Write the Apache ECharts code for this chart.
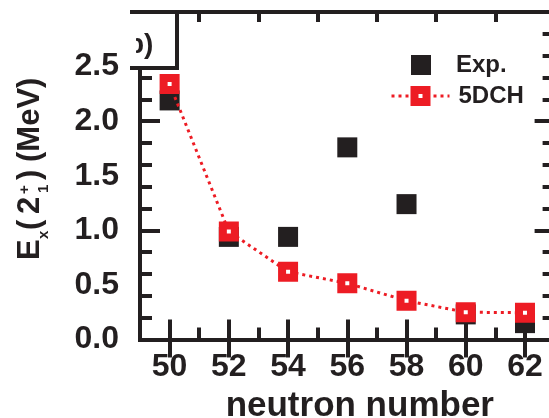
<!DOCTYPE html>
<html>
<head>
<meta charset="utf-8">
<script src="https://cdn.jsdelivr.net/npm/echarts@6/dist/echarts.min.js"></script>
<style>
  html, body { margin: 0; padding: 0; background: #fff; }
  #chart { width: 549px; height: 418px; }
</style>
</head>
<body>
<div id="chart"></div>
<script>
// Neutron numbers and 2+1 excitation energies (MeV)
const neutronNumbers = [50, 52, 54, 56, 58, 60, 62];
const expEnergies = [2.19, 0.94, 0.94, 1.76, 1.24, 0.23, 0.15];
const dchEnergies = [2.34, 0.99, 0.62, 0.515, 0.355, 0.25, 0.245];

// Tick and label positions
const xLabelValues = [50, 52, 54, 56, 58, 60, 62];
const xMajorTicks = [50, 52, 54, 56, 58, 60, 62];
const xMinorTicks = [51, 53, 55, 57, 59, 61];
const yLabelValues = [0, 0.5, 1, 1.5, 2, 2.5];
const yMajorTicks = [1, 2];
const yMinorTicks = [0.2, 0.4, 0.6, 0.8, 1.2, 1.4, 1.6, 1.8, 2.2, 2.4, 2.6, 2.8];

const INK = '#231f20';
const RED = '#ed1c24';
const FONT = 'Liberation Sans';
const LINE_W = 4;

const chart = echarts.init(document.getElementById('chart'));

// Fixed plot box; axes may run past the right edge of the canvas
const gridBox = { left: 140, top: 12, right: -5.6, bottom: 78.5,
                  containLabel: false, outerBoundsMode: 'none' };

function lineOn() {
  return { show: true, onZero: false, lineStyle: { color: INK, width: LINE_W, cap: 'square' } };
}

function xAxisDef(gridIndex, position, ticks, tickLen, withLine, withLabels) {
  return {
    type: 'value', gridIndex, position, min: 49, max: 63, interval: 1,
    axisLine: withLine ? lineOn() : { show: false },
    axisTick: { show: true, inside: true, length: tickLen, customValues: ticks,
                lineStyle: { color: INK, width: LINE_W } },
    axisLabel: withLabels ? {
      show: true, customValues: xLabelValues, margin: 12,
      fontSize: 32, fontWeight: 'bold', fontFamily: FONT, color: INK
    } : { show: false },
    splitLine: { show: false },
    name: withLabels ? 'neutron number' : '',
    nameLocation: 'middle', nameGap: 46,
    nameTextStyle: { fontSize: 35, fontWeight: 'bold', fontFamily: FONT, color: INK,
                     padding: [0, 0, 0, 25] }
  };
}

function yAxisDef(gridIndex, position, ticks, tickLen, withLine, withLabels) {
  return {
    type: 'value', gridIndex, position, min: 0, max: 3, interval: 0.2,
    axisLine: withLine ? lineOn() : { show: false },
    axisTick: { show: true, inside: true, length: tickLen, customValues: ticks,
                lineStyle: { color: INK, width: LINE_W } },
    axisLabel: withLabels ? {
      show: true, customValues: yLabelValues, margin: 21,
      formatter: v => v.toFixed(1),
      fontSize: 32, fontWeight: 'bold', fontFamily: FONT, color: INK
    } : { show: false },
    splitLine: { show: false }
  };
}

// Y axis title: E_x (2_1^+) (MeV), read bottom to top
const titleFont = s => `bold ${s}px "${FONT}"`;
function titlePiece(text, x, y, size) {
  return { type: 'text', x, y, z: 100,
           style: { text, font: titleFont(size), fill: INK, verticalAlign: 'middle' } };
}
const yTitle = {
  type: 'group', x: 30, y: 260, rotation: Math.PI / 2, z: 100,
  children: [
    titlePiece('E', 0, 0, 31),
    titlePiece('x', 21, 14, 15),
    titlePiece('(', 30, 0, 31),
    titlePiece('2', 46, 0, 31),
    titlePiece('+', 66, -5, 15),
    titlePiece('1', 67, 14, 15),
    titlePiece(')', 80, 0, 31),
    titlePiece('(MeV)', 98, 0, 31)
  ]
};

// Panel tag box in the upper-left corner
const panelTag = {
  type: 'group', z: 100,
  children: [
    { type: 'rect', z: 100, shape: { x: 130, y: 10, width: 49, height: 60 }, style: { fill: '#fff' } },
    { type: 'text', z: 101, x: 127, y: 45, style: { text: 'b)', font: titleFont(28), fill: INK, verticalAlign: 'middle' } },
    { type: 'rect', z: 102, shape: { x: 124, y: 15, width: 12, height: 50 }, style: { fill: '#fff' } },
    { type: 'line', z: 103, shape: { x1: 130, y1: 12, x2: 179, y2: 12 }, style: { stroke: INK, lineWidth: LINE_W } },
    { type: 'line', z: 103, shape: { x1: 177, y1: 12, x2: 177, y2: 70 }, style: { stroke: INK, lineWidth: LINE_W } },
    { type: 'line', z: 103, shape: { x1: 130, y1: 68, x2: 179, y2: 68 }, style: { stroke: INK, lineWidth: LINE_W } }
  ]
};

const option = {
  animation: false,
  backgroundColor: '#fff',
  grid: [gridBox, Object.assign({}, gridBox)],
  xAxis: [
    xAxisDef(0, 'bottom', xMinorTicks, 12, true, true),
    xAxisDef(0, 'top', xMinorTicks, 10, true, false),
    xAxisDef(1, 'bottom', xMajorTicks, 20, false, false),
    xAxisDef(1, 'top', xMajorTicks, 18, false, false)
  ],
  yAxis: [
    yAxisDef(0, 'left', yMinorTicks, 12, true, true),
    yAxisDef(0, 'right', yMinorTicks, 12, true, false),
    yAxisDef(1, 'left', yMajorTicks, 20, false, false),
    yAxisDef(1, 'right', yMajorTicks, 20, false, false)
  ],
  legend: [
    {
      data: ['Exp.'], left: 411, top: 53, padding: 0, itemWidth: 20, itemHeight: 20,
      selectedMode: false,
      itemStyle: { opacity: 1 },
      textStyle: { fontSize: 24, fontWeight: 'bold', fontFamily: FONT, color: INK, padding: [0, 0, 0, 20] }
    },
    {
      data: ['5DCH'], left: 390, top: 84, padding: 0, itemWidth: 58, itemHeight: 15,
      selectedMode: false,
      itemStyle: { borderWidth: 8 },
      lineStyle: { width: 3 },
      textStyle: { fontSize: 24, fontWeight: 'bold', fontFamily: FONT, color: INK, padding: [0, 0, 0, 4] }
    }
  ],
  series: [
    {
      name: 'Exp.', type: 'scatter', xAxisIndex: 0, yAxisIndex: 0,
      data: neutronNumbers.map((n, i) => [n, expEnergies[i]]),
      symbol: 'rect', symbolSize: 20,
      itemStyle: { color: INK, opacity: 1 },
      emphasis: { disabled: true }, z: 2
    },
    {
      name: '5DCH', type: 'line', xAxisIndex: 0, yAxisIndex: 0,
      data: neutronNumbers.map((n, i) => [n, dchEnergies[i]]),
      symbol: 'rect', symbolSize: 12, showSymbol: true,
      lineStyle: { color: RED, width: 3, type: [3, 4] },
      itemStyle: { color: '#fff', borderColor: RED, borderWidth: 8 },
      emphasis: { disabled: true }, z: 3
    }
  ],
  graphic: [yTitle, panelTag]
};

chart.setOption(option);
</script>
</body>
</html>
